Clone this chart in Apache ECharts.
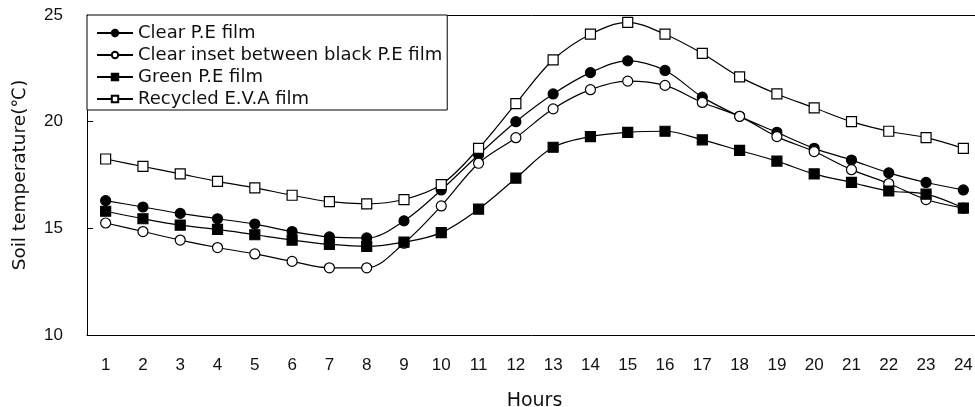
<!DOCTYPE html>
<html>
<head>
<meta charset="utf-8">
<title>Soil temperature</title>
<script src="https://cdn.jsdelivr.net/npm/echarts@6/dist/echarts.min.js"></script>
<style>
  html, body { margin: 0; padding: 0; background: #fff; }
  #chart { width: 975px; height: 407px; }
</style>
</head>
<body>
<div id="chart"></div>
<script>
var hours = ['1','2','3','4','5','6','7','8','9','10','11','12','13','14','15','16','17','18','19','20','21','22','23','24'];
var yTicks = [10, 15, 20, 25];

var clearPE = [16.3, 16.0, 15.7, 15.45, 15.2, 14.85, 14.6, 14.55, 15.35, 16.8, 18.45, 20.0,
               21.3, 22.3, 22.85, 22.4, 21.15, 20.25, 19.5, 18.75, 18.2, 17.6, 17.15, 16.8];
var clearInset = [15.25, 14.85, 14.45, 14.1, 13.8, 13.45, 13.15, 13.15, 14.3, 16.05, 18.05, 19.25,
                  20.6, 21.5, 21.9, 21.7, 20.9, 20.25, 19.3, 18.6, 17.75, 17.1, 16.35, 15.95];
var greenPE = [15.8, 15.45, 15.15, 14.95, 14.7, 14.45, 14.25, 14.15, 14.35, 14.8, 15.9, 17.35,
               18.8, 19.3, 19.5, 19.55, 19.15, 18.65, 18.15, 17.55, 17.15, 16.75, 16.6, 15.95];
var recycledEVA = [18.25, 17.9, 17.55, 17.2, 16.9, 16.55, 16.25, 16.15, 16.35, 17.05, 18.75, 20.85,
                   22.9, 24.1, 24.65, 24.1, 23.2, 22.1, 21.3, 20.65, 20.0, 19.55, 19.25, 18.75];

var names = ['Clear P.E film', 'Clear inset between black P.E film', 'Green P.E film', 'Recycled E.V.A film'];

var chart = echarts.init(document.getElementById('chart'));

function makeSeries(name, data, symbol, filled) {
  return {
    name: name,
    type: 'line',
    data: data,
    smooth: 0.35,
    symbol: symbol,
    symbolSize: 10,
    showAllSymbol: true,
    lineStyle: { color: '#000', width: 1.2 },
    itemStyle: {
      color: filled ? '#000' : '#fff',
      borderColor: '#000',
      borderWidth: 1.2
    },
    emphasis: { disabled: true }
  };
}

chart.setOption({
  backgroundColor: '#fff',
  animation: false,
  textStyle: { fontFamily: 'DejaVu Sans', color: '#111' },
  grid: {
    left: 87,
    top: 15,
    bottom: 72,
    right: -7,
    outerBoundsMode: 'none',
    containLabel: false
  },
  legend: {
    orient: 'vertical',
    left: 87,
    top: 15,
    data: names,
    itemWidth: 36,
    itemHeight: 8,
    itemGap: 4,
    padding: [9, 5, 2, 9],
    borderColor: '#000',
    borderWidth: 1,
    backgroundColor: '#fff',
    textStyle: { fontFamily: 'DejaVu Sans', fontSize: 18, color: '#111' }
  },
  xAxis: [{
    type: 'category',
    data: hours,
    boundaryGap: true,
    name: 'Hours',
    nameLocation: 'middle',
    nameGap: 57,
    nameTextStyle: { fontFamily: 'DejaVu Sans', fontSize: 19, color: '#111' },
    axisLine: { lineStyle: { color: '#000', width: 1 } },
    axisTick: { inside: true, length: 5, alignWithLabel: false, lineStyle: { color: '#000' } },
    axisLabel: { margin: 22, fontFamily: 'Liberation Sans', fontSize: 17, color: '#111' },
    splitLine: { show: false }
  }, {
    // top frame line only
    type: 'category',
    data: hours,
    position: 'top',
    axisLine: { show: true, lineStyle: { color: '#000', width: 1 } },
    axisTick: { show: false },
    axisLabel: { show: false },
    splitLine: { show: false }
  }],
  yAxis: {
    type: 'value',
    min: yTicks[0],
    max: yTicks[yTicks.length - 1],
    interval: 5,
    name: 'Soil temperature(\u2103)',
    nameLocation: 'middle',
    nameGap: 57,
    nameTextStyle: { fontFamily: 'DejaVu Sans', fontSize: 18.5, color: '#111' },
    axisLine: { show: true, lineStyle: { color: '#000', width: 1 } },
    axisTick: { show: true, inside: true, length: 6, lineStyle: { color: '#000' } },
    axisLabel: { margin: 24, fontFamily: 'Liberation Sans', fontSize: 17, color: '#111' },
    splitLine: { show: false }
  },
  series: [
    makeSeries(names[0], clearPE, 'circle', true),
    makeSeries(names[1], clearInset, 'circle', false),
    makeSeries(names[2], greenPE, 'rect', true),
    makeSeries(names[3], recycledEVA, 'rect', false)
  ]
});
</script>
</body>
</html>
